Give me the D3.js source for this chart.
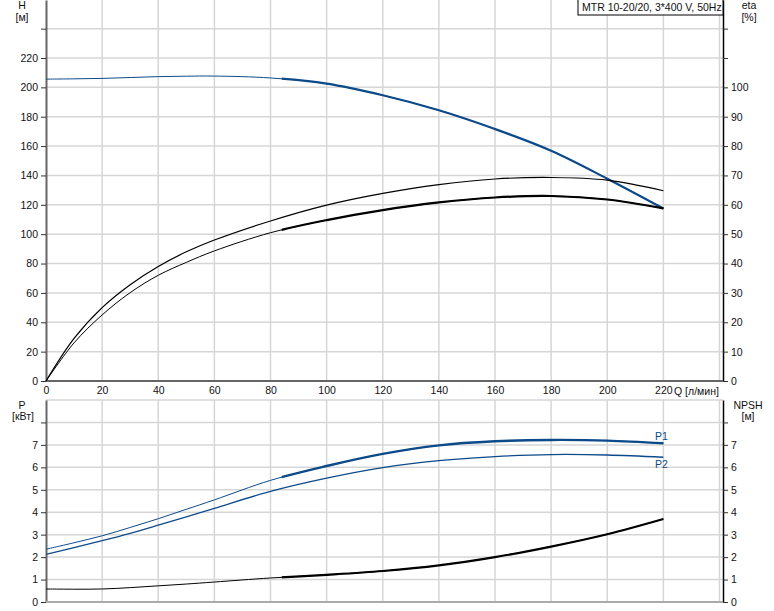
<!DOCTYPE html>
<html><head><meta charset="utf-8">
<script src="https://cdn.jsdelivr.net/npm/d3@7"></script>
<style>
body{margin:0;background:#fff;}
svg text{font-family:"Liberation Sans",Arial,sans-serif;font-size:10.5px;fill:#111;}
</style></head>
<body><svg id="c" width="774" height="611"></svg>
<script>
// ---- data ----
const Q = [0,10,20,30,40,50,60,80,100,120,140,160,180,200,220];
const headH = [205.6,205.8,206.1,206.7,207.3,207.6,207.7,206.4,202.5,194.6,184.4,171.6,156.8,137.8,117.5];
const etaUpper = [0,14.5,25,32.8,39,44,48,54.5,59.9,63.9,66.9,68.8,69.3,68.4,64.8];
const etaLower = [0,13.0,22.5,30.1,36,40.4,44.3,50.5,54.8,58.2,60.8,62.5,63,61.8,58.8];
const powerP1 = [2.35,2.64,2.95,3.32,3.71,4.13,4.55,5.42,6.06,6.6,6.98,7.16,7.22,7.19,7.07];
const powerP2 = [2.12,2.42,2.73,3.06,3.42,3.79,4.17,4.93,5.52,5.99,6.3,6.48,6.57,6.55,6.45];
const npsh = [0.58,0.57,0.58,0.64,0.72,0.8,0.89,1.07,1.21,1.38,1.63,2.0,2.47,3.02,3.7];
const qTicks = [0,20,40,60,80,100,120,140,160,180,200,220];
const hTicks = [0,20,40,60,80,100,120,140,160,180,200,220,240];
const etaTicks = [0,10,20,30,40,50,60,70,80,90,100,110,120];
const pTicks = [0,1,2,3,4,5,6,7,8];
const title = "MTR 10-20/20, 3*400 V, 50Hz";
const qStart = 84; // start of the bold operating range

const svg = d3.select("#c");
const x = d3.scaleLinear().domain([0,240]).range([46,719.5]);
const yH = d3.scaleLinear().domain([0,259.5]).range([381,0]);
const yEta = d3.scaleLinear().domain([0,129.75]).range([381,0]);
const yP = d3.scaleLinear().domain([0,9]).range([602,400]);
const xR = 723;
const gridC = "#d6d6d6";

const defs = svg.append("defs");
defs.append("clipPath").attr("id","bold").append("rect")
  .attr("x", x(qStart)).attr("y",0).attr("width", x(220)-x(qStart)+6).attr("height",611);

// ---- grids ----
const g = svg.append("g");
[20,40,60,80,100,120,140,160,180,200,220,240].forEach(q=>{
  g.append("line").attr("x1",x(q)).attr("x2",x(q)).attr("y1",0).attr("y2",381)
   .attr("stroke",gridC).attr("stroke-width",1.5);
  g.append("line").attr("x1",x(q)).attr("x2",x(q)).attr("y1",400).attr("y2",602)
   .attr("stroke",gridC).attr("stroke-width",1.5);
});
hTicks.slice(1).forEach(h=>{
  g.append("line").attr("x1",46).attr("x2",xR).attr("y1",yH(h)).attr("y2",yH(h))
   .attr("stroke",gridC).attr("stroke-width",1.5);
});
pTicks.slice(1).concat([9]).forEach(p=>{
  g.append("line").attr("x1",46).attr("x2",xR).attr("y1",yP(p)).attr("y2",yP(p))
   .attr("stroke",gridC).attr("stroke-width",1.5);
});

// ---- axes ----
function styleAxis(sel, col, w){
  sel.select(".domain").attr("stroke",col).attr("stroke-width",w);
  sel.selectAll(".tick line").attr("stroke","#333");
  sel.selectAll("text").attr("font-family",null).attr("font-size",null).attr("fill","#111");
}
const axL = svg.append("g").attr("transform","translate(46,0)")
  .call(d3.axisLeft(yH).tickValues(hTicks).tickSize(5).tickSizeOuter(0).tickPadding(3)
    .tickFormat(d=> d<=220 ? d : ""));
styleAxis(axL,"#666",2);
const axR = svg.append("g").attr("transform",`translate(${xR},0)`)
  .call(d3.axisRight(yEta).tickValues(etaTicks).tickSize(5).tickSizeOuter(0).tickPadding(3)
    .tickFormat(d=> d<=100 ? d : ""));
styleAxis(axR,"#000",1.5);
const axB = svg.append("g").attr("transform","translate(0,381)")
  .call(d3.axisBottom(x).tickValues(qTicks).tickSize(0).tickSizeOuter(0).tickPadding(6));
axB.select(".domain").attr("d",`M46,0H${xR}`);
styleAxis(axB,"#666",2);
svg.append("text").attr("x",674).attr("y",395).text("Q [л/мин]");

const axL2 = svg.append("g").attr("transform","translate(46,0)")
  .call(d3.axisLeft(yP).tickValues(pTicks).tickSize(5).tickSizeOuter(0).tickPadding(3)
    .tickFormat(d=> d<=7 ? d : ""));
styleAxis(axL2,"#666",2);
const axR2 = svg.append("g").attr("transform",`translate(${xR},0)`)
  .call(d3.axisRight(yP).tickValues(pTicks).tickSize(5).tickSizeOuter(0).tickPadding(3)
    .tickFormat(d=> d<=7 ? d : ""));
styleAxis(axR2,"#000",1.5);
svg.append("line").attr("x1",46).attr("x2",xR).attr("y1",602).attr("y2",602)
  .attr("stroke","#aaa").attr("stroke-width",2);

// ---- axis titles ----
const lab = (t,xx,yy)=>svg.append("text").attr("x",xx).attr("y",yy).attr("text-anchor","middle").text(t);
lab("H",22,9); lab("[м]",22,21);
lab("eta",749,9); lab("[%]",749,21);
lab("P",22,409); lab("[кВт]",23,420);
lab("NPSH",748,409); lab("[м]",748,420);

// ---- curves ----
const blue = "#0d4a8a";
function curve(vals, ys, col, thin, thick){
  const line = d3.line().x((d,i)=>x(Q[i])).y(d=>ys(d)).curve(d3.curveCatmullRom.alpha(0.5));
  svg.append("path").attr("d",line(vals)).attr("fill","none").attr("stroke",col).attr("stroke-width",thin);
  if(thick){
    svg.append("path").attr("d",line(vals)).attr("fill","none").attr("stroke",col)
      .attr("stroke-width",thick).attr("clip-path","url(#bold)");
  }
}
curve(headH, yH, blue, 1, 2.2);
curve(etaUpper, yEta, "#000", 1.2, 0);
curve(etaLower, yEta, "#000", 1, 2.2);
curve(powerP1, yP, blue, 1, 2.4);
curve(powerP2, yP, blue, 1.3, 0);
curve(npsh, yP, "#000", 1, 2.2);

svg.append("text").attr("x",655).attr("y",440).style("fill",blue).text("P1");
svg.append("text").attr("x",655).attr("y",468).style("fill",blue).text("P2");

// ---- title box ----
svg.append("rect").attr("x",578).attr("y",-1).attr("width",145).attr("height",16)
  .attr("fill","#fff").attr("stroke","#000").attr("stroke-width",1);
svg.append("text").attr("x",582).attr("y",11).text(title);
</script></body></html>
